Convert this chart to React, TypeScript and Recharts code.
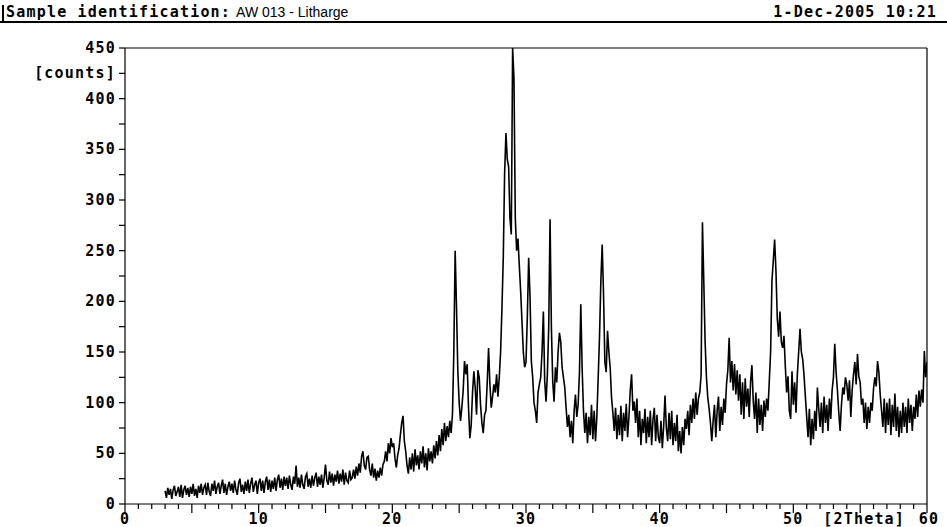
import { LineChart, Line, XAxis, YAxis, ReferenceLine } from "recharts";

// scan grid of the diffractometer
const scanStart = 3;
const scanStep = 0.1;

// counts, one row per degree 2Theta (x.0 .. x.9)
const counts = [
  13, 6, 16, 9, 15, 5, 14, 18, 8, 12,
  17, 7, 19, 6, 14, 18, 9, 16, 7, 17,
  10, 20, 8, 15, 6, 18, 11, 20, 9, 16,
  19, 9, 21, 12, 8, 20, 13, 23, 10, 17,
  21, 10, 18, 24, 11, 20, 9, 17, 22, 13,
  20, 11, 23, 14, 9, 21, 25, 12, 19, 10,
  22, 13, 24, 11, 20, 26, 12, 19, 23, 10,
  21, 25, 13, 23, 11, 22, 27, 14, 24, 12,
  23, 15, 26, 13, 24, 29, 16, 25, 14, 27,
  18, 26, 15, 28, 19, 14, 27, 20, 38, 17,
  26, 16, 29, 19, 15, 27, 30, 17, 25, 16,
  28, 18, 26, 31, 17, 27, 19, 29, 16, 26,
  39, 23, 19, 32, 21, 30, 18, 29, 22, 33,
  20, 30, 22, 34, 19, 31, 23, 21, 33, 24,
  26, 34, 25, 37, 28, 40, 31, 47, 52, 38,
  34, 46, 47, 34, 28, 40, 26, 35, 23, 33,
  26, 36, 28, 39, 42, 52, 42, 60, 50, 65,
  56, 60, 45, 36, 48, 55, 68, 80, 87, 62,
  52, 38, 30, 46, 34, 50, 32, 54, 38, 48,
  34, 52, 40, 57, 36, 50, 33, 55, 42, 52,
  40, 58, 45, 62, 48, 68, 52, 74, 58, 80,
  62, 77, 66, 82, 70, 89, 150, 250, 195, 131,
  100, 82, 95, 112, 141, 128, 138, 95, 65, 78,
  110, 131, 115, 88, 132, 125, 98, 80, 70, 88,
  92, 120, 154, 118, 95, 106, 118, 110, 128, 106,
  125, 150, 193, 243, 326, 366, 340, 333, 282, 266,
  450, 420, 282, 250, 262, 235, 210, 180, 150, 135,
  140, 185, 243, 205, 141, 125, 100, 92, 80, 110,
  118, 125, 150, 190, 121, 101, 128, 175, 281, 174,
  121, 101, 135, 120, 150, 169, 160, 135, 125, 115,
  95, 76, 88, 66, 82, 60, 92, 108, 86, 98,
  130, 197, 134, 92, 70, 90, 60, 86, 68, 98,
  64, 92, 62, 86, 124, 165, 220, 256, 207, 140,
  130, 171, 150, 134, 105, 90, 72, 95, 64, 88,
  68, 97, 62, 90, 72, 99, 66, 86, 112, 128,
  92, 101, 80, 104, 66, 92, 58, 84, 70, 94,
  60, 86, 66, 92, 58, 83, 95, 62, 88, 66,
  60, 82, 55, 77, 107, 75, 62, 90, 64, 92,
  58, 80, 62, 88, 52, 72, 50, 76, 58, 84,
  74, 92, 68, 98, 80, 104, 84, 110, 88, 104,
  110, 127, 278, 220, 160, 125, 105, 94, 80, 62,
  82, 98, 66, 92, 106, 72, 96, 78, 104, 90,
  118, 132, 164, 120, 141, 112, 138, 108, 132, 102,
  128, 88, 120, 84, 124, 96, 114, 86, 120, 137,
  102, 84, 110, 70, 104, 78, 98, 72, 102, 86,
  104, 92, 121, 150, 220, 240, 261, 230, 183, 165,
  190, 160, 154, 166, 136, 110, 126, 92, 84, 131,
  98, 120, 90, 128, 150, 173, 150, 143, 127, 106,
  86, 66, 94, 58, 84, 64, 92, 72, 115, 94,
  76, 100, 70, 106, 80, 98, 72, 104, 84, 112,
  125, 158, 130, 112, 90, 72, 98, 115, 108, 125,
  118, 102, 122, 86, 112, 128, 140, 118, 148, 126,
  120, 98, 104, 80, 100, 74, 96, 80, 100, 92,
  114, 125, 116, 141, 130, 108, 92, 76, 104, 70,
  100, 78, 104, 68, 98, 76, 109, 72, 96, 66,
  92, 70, 100, 76, 96, 70, 104, 80, 98, 72,
  96, 84, 108, 86, 112, 96, 113, 100, 151, 125,
  140,
];

const xTicks = [
  0, 1, 2, 3, 4, 5, 6, 7, 8, 9, 10, 11, 12, 13, 14, 15, 16, 17, 18, 19, 20,
  21, 22, 23, 24, 25, 26, 27, 28, 29, 30, 31, 32, 33, 34, 35, 36, 37, 38, 39, 40,
  41, 42, 43, 44, 45, 46, 47, 48, 49, 50, 51, 52, 53, 54, 55, 56, 57, 58, 59, 60,
];
const xLabels = [0, 10, 20, 30, 40, 50, 60];
const xUnitAt = 55;
const xUnit = "[2Theta]";

const yTicks = [0, 25, 50, 75, 100, 125, 150, 175, 200, 225, 250, 275, 300, 325, 350, 375, 400, 425, 450];
const yLabels = [0, 50, 100, 150, 200, 250, 300, 350, 400, 450];
const yUnitAt = 425;
const yUnit = "[counts]";

const sampleLabel = "Sample identification:";
const sampleName = "AW 013 - Litharge";
const dateLabel = "1-Dec-2005 10:21";

const scan = counts.map((c, i) => ({
  angle: Math.round((scanStart + i * scanStep) * 10) / 10,
  counts: c,
}));

const mono = "'DejaVu Sans Mono', 'Liberation Mono', monospace";

function XTick({ x, y, payload }: any) {
  const v = payload.value as number;
  const len = v % 5 === 0 ? 9 : 5;
  return (
    <g>
      <line x1={x} y1={y} x2={x} y2={y + len} stroke="#000" strokeWidth={1.2} />
      {xLabels.includes(v) && (
        <text x={v === 60 ? x + 2 : x} y={y + 20} textAnchor="middle" fontFamily={mono} fontWeight="bold" fontSize={15} letterSpacing={1.2} fill="#000">
          {v}
        </text>
      )}
      {v === xUnitAt && (
        <text x={x + 4} y={y + 20} textAnchor="middle" fontFamily={mono} fontWeight="bold" fontSize={15} letterSpacing={1.2} fill="#000">
          {xUnit}
        </text>
      )}
    </g>
  );
}

function YTick({ x, y, payload }: any) {
  const v = payload.value as number;
  let label: string | null = null;
  if (yLabels.includes(v)) label = String(v);
  if (v === yUnitAt) label = yUnit;
  if (!label) return null;
  return (
    <text x={x} y={y} dy={5} textAnchor="end" fontFamily={mono} fontWeight="bold" fontSize={15} letterSpacing={1.2} fill="#000">
      {label}
    </text>
  );
}

export default function App() {
  return (
    <div style={{ position: "absolute", left: 0, top: 0, width: 947, height: 527, background: "#fff" }}>
      <div style={{ position: "absolute", left: 2, top: 5, width: 1.5, height: 17, background: "#000" }} />
      <div style={{ position: "absolute", left: 0, top: 21, width: 947, height: 1.5, background: "#000" }} />
      <div style={{ position: "absolute", left: 6, top: 3, whiteSpace: "nowrap", lineHeight: "18px" }}>
        <span style={{ fontFamily: mono, fontWeight: "bold", fontSize: 15, letterSpacing: 1.2 }}>{sampleLabel}</span>
        <span style={{ fontFamily: "'Liberation Sans', Arial, sans-serif", fontSize: 14, marginLeft: 5 }}>{sampleName}</span>
      </div>
      <div style={{ position: "absolute", right: 10, top: 3, whiteSpace: "nowrap", lineHeight: "18px", fontFamily: mono, fontWeight: "bold", fontSize: 15, letterSpacing: 1.2 }}>
        {dateLabel}
      </div>
      <div style={{ position: "absolute", left: 0, top: 0 }}>
        <LineChart width={947} height={527} data={scan} margin={{ top: 48, right: 20, bottom: 0, left: 0 }}>
          <XAxis
            dataKey="angle"
            type="number"
            domain={[0, 60]}
            ticks={xTicks}
            interval={0}
            allowDataOverflow
            height={23}
            axisLine={{ stroke: "#000", strokeWidth: 1.2 }}
            tickLine={false}
            tickSize={0}
            tickMargin={0}
            tick={<XTick />}
          />
          <YAxis
            type="number"
            domain={[0, 450]}
            ticks={yTicks}
            interval={0}
            allowDataOverflow
            width={125}
            axisLine={{ stroke: "#000", strokeWidth: 1.2 }}
            tickLine={{ stroke: "#000", strokeWidth: 1.2 }}
            tickSize={6}
            tickMargin={3}
            tick={<YTick />}
          />
          <ReferenceLine y={450} stroke="#000" strokeWidth={1.2} />
          <ReferenceLine x={60} stroke="#000" strokeWidth={1.2} />
          <Line
            type="linear"
            dataKey="counts"
            stroke="#000"
            strokeWidth={1.6}
            dot={false}
            isAnimationActive={false}
          />
        </LineChart>
      </div>
    </div>
  );
}
